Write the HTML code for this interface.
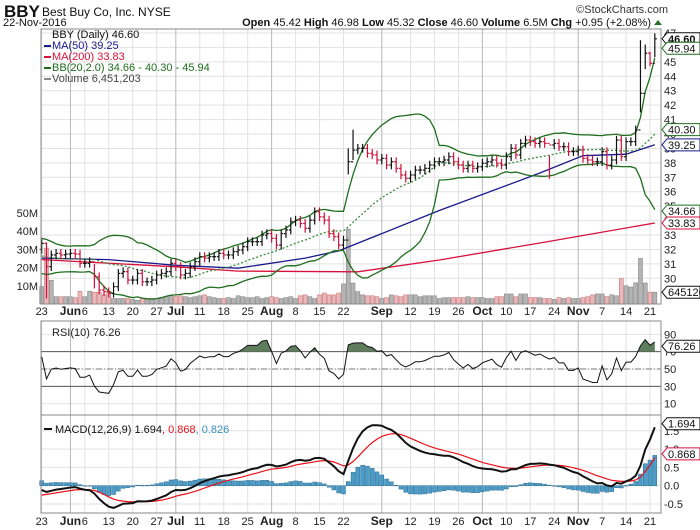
<!DOCTYPE html>
<html><head><meta charset="utf-8">
<style>
html,body{margin:0;padding:0;background:#fff;}
svg{display:block;font-family:"Liberation Sans",sans-serif;}
</style></head>
<body>
<svg id="c" width="700" height="530" viewBox="0 0 700 530" xmlns="http://www.w3.org/2000/svg">
  <text x="4" y="17" font-size="17" font-weight="bold" fill="#111">BBY</text>
  <text x="42" y="16" font-size="12" fill="#111">Best Buy Co, Inc.  NYSE</text>
  <text x="668" y="13" font-size="11" fill="#333" text-anchor="end">©StockCharts.com</text>
  <text x="3" y="26" font-size="11" fill="#111">22-Nov-2016</text>
  <text x="651" y="26" font-size="11" fill="#111" text-anchor="end"><tspan font-weight="bold">Open</tspan> 45.42 <tspan font-weight="bold">High</tspan> 46.98 <tspan font-weight="bold">Low</tspan> 45.32 <tspan font-weight="bold">Close</tspan> 46.60 <tspan font-weight="bold">Volume</tspan> 6.5M <tspan font-weight="bold">Chg</tspan> +0.95 (+2.08%)</text>
  <polygon points="654,25 662,25 658,20" fill="#2a6e2a"/>
  <g id="grid"></g>
  <g id="vol"></g>
  <g id="lines"></g>
  <g id="bars"></g>
  <g id="ind"></g>
  <g id="frames"></g>
  <g id="labels"></g>
  <g id="legend"></g>
  <g id="tags"></g>
</svg>
<script>
const priorCloses = [32.3,32.5,32.6,32.2,32.0,31.8,31.5,31.2,31.0,30.9,31.1,31.3,31.0,30.8,30.7,30.9,31.2,31.6,32.0];
const closesA = [32.42,30.81,31.62,31.73,31.62,31.68,31.73,31.68,31.04,31.04,31.15,30.11,29.19,29.07,28.96,29.42,30.34,30.46,29.88,29.88,30.34,29.76,29.76,29.88,30.23,30.34,30.46,31.04,30.81,30.23,30.34,30.81,31.15,31.5,31.4,31.5,31.5,31.73,31.62,31.62,31.85,31.96,32.19,32.54,32.54,32.54,33.0,33.1,32.77,32.3,33.1,33.35,33.92,34.03,33.8,33.46,34.03,34.61,34.26,34.03,33.1,32.88,32.3,32.65];
const closesB = [38.08,38.89,39.01,39.01,38.66,38.55,38.2,38.31,37.85,38.08,37.62,37.16,36.93,37.16,37.5,37.5,37.62,37.85,38.08,38.08,38.2,38.43,38.08,37.85,37.62,37.85,37.62,37.73,37.97,38.08,38.2,37.97,37.85,38.43,39.01,38.55,39.35,39.58,39.47,39.35,39.47,39.35,39.24,39.35,39.12,39.12,38.78,38.78,38.89,38.31,38.2,38.08,38.08,38.78,37.85,38.2,39.58,38.43,39.47,39.47,40.28,42.82];
const closesC = [45.6,44.9,46.6];
const volA = [9.5,30.6,13,4,4,4,4,3.5,7,4,7,6.5,6.5,5,7,3,3,3,3,2.5,2,3,3,3,3,3.5,4,4.5,4,4.5,4,3.5,4,4.5,5,4,3.5,3,3,3.5,3,4.5,4,3.5,3.5,4,3,3.5,4,3.5,3,3.5,4,3,4.5,5,4,3,5,6,5,5,6,11];
const volB = [41,11.5,6.8,5,4.5,4.5,4,3,3.5,5,4.5,4,5,5,5,4,4.5,4.5,4.5,3,3.5,3.5,3.5,3.5,3.5,4,3.5,3.5,3.5,3,3,4,4,5.5,5.5,4,5.5,5.5,3.5,3.5,3.5,3,3,2.5,3.5,3,3.5,3,3,3.5,4,5,5.5,5.5,4,5,4.5,14,10,9.3,11.6,25];
const volC = [11.5,6.5,6.45];
const bigBarIdx = [1,11,64,65,106,125,126,127,128];
const bigBarLow = [28.6,29.3,37.2,38.2,36.9,41.5,44.5,44.7,45.32];
const bigBarHigh = [32.5,31.0,39.0,40.3,38.5,46.5,46.2,45.7,46.98];
const ma50Idx = [0,14,28,41,55,62,83,104,113,122,128];
const ma50Val = [31.4,31.3,30.9,30.7,31.4,31.9,34.7,37.3,38.5,38.6,39.25];
const ma200Idx = [0,28,41,66,83,104,128];
const ma200Val = [31.3,30.8,30.5,30.45,31.27,32.45,33.83];
const tickLabels = ["23","Jun","6","13","20","27","Jul","11","18","25","Aug","8","15","22","Sep","12","19","26","Oct","10","17","24","Nov","7","14","21"];
const tickIdx = [0,6,9,14,19,24,28,33,38,43,48,53,58,63,71,77,82,87,92,97,102,107,112,117,122,127];
const tickMonth = [0,1,0,0,0,0,1,0,0,0,1,0,0,0,1,0,0,0,1,0,0,0,1,0,0,0];
const priceTicks = [30,31,32,33,34,35,36,37,38,39,40,41,42,43,44,45,46,47];
const volTicks = [10,20,30,40,50];
const rsiTicks = [10,30,50,70,90];
const macdTicks = [-0.5,0,0.5,1,1.5];

const closes = closesA.concat(closesB, closesC);
const vols = volA.concat(volB, volC);
const N = closes.length;
const NS = "http://www.w3.org/2000/svg";
const X0 = 41.7, STEP = 4.79;
const xOf = i => X0 + i*STEP;
const py = p => 33 + (47-p)*14.43;
const vy = v => 304 - v*1.825;
const ry = v => 369 - (v-50)*0.8667;
const my = v => 485.7 - v*36.6;
const L = 41, R = 661;

function mk(tag, attrs, parent){ const e=document.createElementNS(NS,tag); for(const k in attrs) e.setAttribute(k,attrs[k]); document.getElementById(parent).appendChild(e); return e; }
function txt(parent,x,y,s,attrs){ const e=mk('text',Object.assign({x:x,y:y,'font-size':11,fill:'#222'},attrs||{}),parent); e.textContent=s; return e; }
function pts(arr){ return arr.map(p=>p[0].toFixed(1)+','+p[1].toFixed(1)).join(' '); }

// ---- grids ----
priceTicks.forEach(p=>{ const l=mk('line',{x1:L,x2:R,y1:py(p),y2:py(p),stroke:'#e2e2e2','stroke-width':1},'grid');
    });
rsiTicks.forEach(v=>{ const l=mk('line',{x1:L,x2:R,y1:ry(v),y2:ry(v),stroke:'#e2e2e2'},'grid');
    });
macdTicks.forEach(v=>{ const l=mk('line',{x1:L,x2:R,y1:my(v),y2:my(v),stroke:'#e2e2e2'},'grid');
    });
tickIdx.forEach((ti,k)=>{ const x=xOf(ti);
  [[29,304],[321,513]].forEach(r=>{ const l=mk('line',{x1:x,x2:x,y1:r[0],y2:r[1],stroke:tickMonth[k]?'#b8b8b8':'#e2e2e2'},'grid');
      });
});

// ---- derived series ----
const all = priorCloses.concat(closes); const P = priorCloses.length;
const down = closes.map((c,i)=> c < all[P+i-1]);
const sma=[],upper=[],lower=[];
for(let i=0;i<N;i++){ const w=all.slice(P+i-19,P+i+1); const m=w.reduce((a,b)=>a+b,0)/w.length;
  const sd=Math.sqrt(w.reduce((a,b)=>a+(b-m)*(b-m),0)/w.length); sma.push(m); upper.push(m+2*sd); lower.push(m-2*sd); }
// RSI(10) Wilder
let ag=0,al=0; const rsiAll=[];
for(let i=1;i<all.length;i++){ const d=all[i]-all[i-1]; const g=Math.max(d,0), lo=Math.max(-d,0);
  if(i<=10){ ag+=g/10; al+=lo/10; } else { ag=(ag*9+g)/10; al=(al*9+lo)/10; }
  rsiAll.push(al===0?100:100-100/(1+ag/al)); }
const rsi = rsiAll.slice(P-1);
// MACD
function ema(a,n){ const k=2/(n+1); const o=[a[0]]; for(let i=1;i<a.length;i++) o.push(a[i]*k+o[i-1]*(1-k)); return o; }
const e12=ema(all,12), e26=ema(all,26); const macdAll=e12.map((v,i)=>v-e26[i]); const sigAll=ema(macdAll,9);
const macd=macdAll.slice(P), sig=sigAll.slice(P), hist=macd.map((v,i)=>v-sig[i]);

// ---- volume ----
vols.forEach((v,i)=>{ const r=mk('rect',{x:xOf(i)-2,y:vy(v),width:4,height:304-vy(v),fill:down[i]?'#eab7bb':'#b4b4b4',stroke:down[i]?'#c77':'#888','stroke-width':0.6},'vol');
    });

// ---- lines ----
function poly(parent,points,color,w,dash,name){ const e=mk('polyline',{points:pts(points),fill:'none',stroke:color,'stroke-width':w},parent);
  if(dash) e.setAttribute('stroke-dasharray',dash);   return e; }
poly('lines',ma200Idx.map((ix,k)=>[xOf(ix),py(ma200Val[k])]),'#d8103c',1.3,null,'ma200-line');
poly('lines',ma50Idx.map((ix,k)=>[xOf(ix),py(ma50Val[k])]),'#1a1a8e',1.3,null,'ma50-line');
poly('lines',sma.map((v,i)=>[xOf(i),py(v)]),'#3a8a3a',1.3,'2,2','bb-middle-line');
poly('lines',upper.map((v,i)=>[xOf(i),py(v)]),'#1e6e1e',1.3,null,'bb-upper-line');
poly('lines',lower.map((v,i)=>[xOf(i),py(v)]),'#1e6e1e',1.3,null,'bb-lower-line');

// ---- price bars ----
closes.forEach((c,i)=>{ const o = all[P+i-1]; let lo=Math.min(o,c)-0.3, hi=Math.max(o,c)+0.3;
  const b=bigBarIdx.indexOf(i); if(b>=0){ lo=bigBarLow[b]; hi=bigBarHigh[b]; }
  const col=down[i]?'#d0103a':'#111'; const x=xOf(i);
  const g=mk('g',{stroke:col,'stroke-width':1.2},'bars');
   
  const a=document.createElementNS(NS,'line'); a.setAttribute('x1',x);a.setAttribute('x2',x);a.setAttribute('y1',py(hi));a.setAttribute('y2',py(lo)); g.appendChild(a);
  const b1=document.createElementNS(NS,'line'); b1.setAttribute('x1',x-2);b1.setAttribute('x2',x);b1.setAttribute('y1',py(o));b1.setAttribute('y2',py(o)); g.appendChild(b1);
  const b2=document.createElementNS(NS,'line'); b2.setAttribute('x1',x);b2.setAttribute('x2',x+2);b2.setAttribute('y1',py(c));b2.setAttribute('y2',py(c)); g.appendChild(b2);
});

// ---- RSI ----
[[70,'#555',null],[30,'#555',null],[50,'#777','6,2,1,2']].forEach(r=>{ const l=mk('line',{x1:L,x2:R,y1:ry(r[0]),y2:ry(r[0]),stroke:r[1],'stroke-width':1},'ind');
  if(r[2]) l.setAttribute('stroke-dasharray',r[2]);   });
const cp=mk('clipPath',{id:'above70'},'ind'); const cr=document.createElementNS(NS,'rect');
cr.setAttribute('x',L);cr.setAttribute('y',321);cr.setAttribute('width',R-L);cr.setAttribute('height',ry(70)-321); cp.appendChild(cr);
const rp=rsi.map((v,i)=>[xOf(i),ry(v)]);
const fillPts=[[xOf(0),ry(70)]].concat(rp,[[xOf(N-1),ry(70)]]);
const rf=mk('polygon',{points:pts(fillPts),fill:'#5d7d5d','clip-path':'url(#above70)'},'ind');
 
poly('ind',rp,'#111',1,null,'rsi-line');

// ---- MACD ----
hist.forEach((h,i)=>{ const y0=my(0), y1=my(h); const r=mk('rect',{x:xOf(i)-2,y:Math.min(y0,y1),width:4,height:Math.max(0.5,Math.abs(y1-y0)),fill:'#4a9cc9',stroke:'#2d6c90','stroke-width':0.5},'ind');
    });
poly('ind',sig.map((v,i)=>[xOf(i),my(v)]),'#e8101a',1.2,null,'macd-signal-line');
poly('ind',macd.map((v,i)=>[xOf(i),my(v)]),'#111',2,null,'macd-line');

// ---- frames ----
[[29,304,'price-panel-frame'],[321,415,'rsi-panel-frame'],[415,513,'macd-panel-frame']].forEach(f=>{
  const r=mk('rect',{x:L,y:f[0],width:R-L,height:f[1]-f[0],fill:'none',stroke:'#888','stroke-width':1},'frames');
    });

// ---- axis labels ----
priceTicks.forEach(p=>{ const t=txt('labels',664,py(p)+4,String(p));   });
volTicks.forEach(v=>{ const t=txt('labels',38,vy(v)+4,v+'M',{'text-anchor':'end'});   });
rsiTicks.forEach(v=>{ const t=txt('labels',664,ry(v)+4,String(v));   });
macdTicks.forEach(v=>{ const t=txt('labels',664,my(v)+4,v.toFixed(1));   });
tickLabels.forEach((s,k)=>{ [315,525].forEach(y=>{ const t=txt('labels',xOf(tickIdx[k]),y,s,{'text-anchor':'middle','font-weight':tickMonth[k]?'bold':'normal','font-size':tickMonth[k]?12:11});
    }); });

// ---- legends ----
const leg=[['BBY (Daily) 46.60','#111',null],['MA(50) 39.25','#1a1a8e','#1a1a8e'],['MA(200) 33.83','#d8103c','#d8103c'],['BB(20,2.0) 34.66 - 40.30 - 45.94','#1e6e1e','#1e6e1e'],['Volume 6,451,203','#444','#888']];
leg.forEach((l,k)=>{ const y=38+k*11; if(l[2]){ const m=mk('rect',{x:44,y:y-4,width:7,height:2,fill:l[2]},'legend');   }
  const t=txt('legend',52,y,l[0],{fill:l[1],'font-size':11});   });
const t1=txt('legend',52,336,'RSI(10) 76.26',{'font-size':11});  
const mlg=mk('rect',{x:44,y:428,width:8,height:2,fill:'#111'},'legend');  
const t2=mk('text',{x:55,y:433,'font-size':11,fill:'#111'},'legend'); t2.innerHTML='MACD(12,26,9) 1.694<tspan fill="#e8101a">, 0.868</tspan><tspan fill="#3a8fc0">, 0.826</tspan>';
 

// ---- value tags ----
const tags=[[py(46.6),'46.60','#111',true],[py(45.94),'45.94','#1e6e1e',false],[py(40.30),'40.30','#1e6e1e',false],[py(39.25),'39.25','#1a1a8e',false],[py(34.66),'34.66','#1e6e1e',false],[py(33.83),'33.83','#d8103c',false],[vy(6.45),'645120','#111',false],[ry(76.26),'76.26','#111',false],[my(1.694),'1.694','#111',false],[my(0.868),'0.868','#d8103c',false]];
tags.forEach(t=>{ const y=t[0]; const g=mk('polygon',{points:`662,${y} 667,${y-6} 700,${y-6} 700,${y+6} 667,${y+6}`,fill:'#fff',stroke:t[2],'stroke-width':1},'tags');
   
  const s=txt('tags',668,y+4,t[1],{fill:'#111','font-weight':t[3]?'bold':'normal','font-size':11});   });
</script>
</body></html>
